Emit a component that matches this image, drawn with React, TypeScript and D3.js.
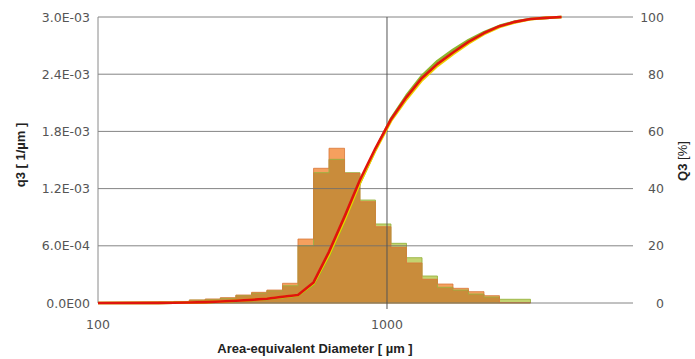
import { useEffect, useRef } from "react"
import * as d3 from "d3"

// bin edges of the histogram [µm]
const binEdges = [162, 183, 207, 235, 265, 300, 340, 384, 435, 492, 557, 630, 713, 806, 912, 1032, 1168, 1322, 1495, 1692, 1914, 2166, 2450, 2772, 3137]

// q3 density [1/µm], one value per bin
const q3Orange = [0.07e-4, 0.16e-4, 0.31e-4, 0.42e-4, 0.56e-4, 0.84e-4, 1.12e-4, 1.36e-4, 2.07e-4, 6.71e-4, 14.13e-4, 16.23e-4, 13.6e-4, 10.63e-4, 8.0e-4, 5.84e-4, 4.2e-4, 2.49e-4, 1.99e-4, 1.54e-4, 1.19e-4, 0.77e-4, 0.05e-4, 0.05e-4]
const q3Green = [0.07e-4, 0.16e-4, 0.31e-4, 0.38e-4, 0.5e-4, 0.78e-4, 1.05e-4, 1.28e-4, 1.81e-4, 6.01e-4, 13.67e-4, 15.07e-4, 13.67e-4, 10.8e-4, 8.29e-4, 6.26e-4, 4.75e-4, 2.83e-4, 1.65e-4, 1.36e-4, 0.94e-4, 0.63e-4, 0.39e-4, 0.39e-4]

// cumulative Q3 [%] at the sizes below
const cumSizes = [100, 162, 183, 207, 235, 265, 300, 340, 384, 435, 492, 557, 630, 713, 806, 912, 1032, 1168, 1322, 1495, 1692, 1914, 2166, 2450, 2772, 3137, 3549, 4016]
const Q3Red = [0, 0.05, 0.1, 0.2, 0.3, 0.5, 0.8, 1.1, 1.5, 2.2, 2.8, 7.2, 17.9, 30.2, 43.0, 54.1, 64.2, 72.0, 78.7, 83.6, 87.6, 91.3, 94.4, 96.8, 98.3, 99.3, 99.7, 100]
const Q3Yellow = [0, 0.05, 0.1, 0.2, 0.3, 0.5, 0.8, 1.1, 1.5, 2.1, 2.7, 6.8, 16.9, 29.0, 42.0, 53.4, 63.6, 71.2, 77.9, 82.9, 87.0, 90.8, 94.0, 96.5, 98.1, 99.2, 99.7, 100]
const Q3Green = [0, 0.05, 0.1, 0.2, 0.3, 0.5, 0.7, 1.0, 1.4, 2.0, 2.6, 6.5, 16.5, 28.8, 42.0, 53.6, 64.4, 72.6, 79.5, 84.6, 88.5, 91.9, 94.7, 96.9, 98.4, 99.3, 99.7, 100]

const leftTicks = [0, 6e-4, 1.2e-3, 1.8e-3, 2.4e-3, 3e-3]
const leftTickLabels = ["0.0E00", "6.0E-04", "1.2E-03", "1.8E-03", "2.4E-03", "3.0E-03"]
const rightTicks = [0, 20, 40, 60, 80, 100]
const xTicks = [100, 1000]

export default function App() {
  const ref = useRef<SVGSVGElement>(null)

  useEffect(() => {
    if (!ref.current) return
    const svg = d3.select(ref.current)
    svg.selectAll("*").remove()

    const left = 98, right = 633, top = 17, bottom = 303
    const x = d3.scaleLog().domain([100, 7100]).range([left, right])
    const yL = d3.scaleLinear().domain([0, 3e-3]).range([bottom, top])
    const yR = d3.scaleLinear().domain([0, 100]).range([bottom, top])
    const font = "'DejaVu Sans', sans-serif"

    // histogram as step outlines / areas
    const step = (vals: number[]) => {
      const pts: [number, number][] = [[x(binEdges[0]), yL(0)]]
      vals.forEach((v, i) => {
        pts.push([x(binEdges[i]), yL(v)])
        pts.push([x(binEdges[i + 1]), yL(v)])
      })
      pts.push([x(binEdges[binEdges.length - 1]), yL(0)])
      return d3.line()(pts) + "Z"
    }
    const q3Min = q3Orange.map((v, i) => Math.min(v, q3Green[i]))

    svg.append("path").attr("d", step(q3Green)).attr("fill", "#c3d370")
    svg.append("path").attr("d", step(q3Orange)).attr("fill", "#f5a05e")
    svg.append("path").attr("d", step(q3Min)).attr("fill", "#c98c3b")

    svg.append("path").attr("d", step(q3Green)).attr("fill", "none")
      .attr("stroke", "#98b440").attr("stroke-width", 1).attr("opacity", 0.9)
    svg.append("path").attr("d", step(q3Orange)).attr("fill", "none")
      .attr("stroke", "#d8773a").attr("stroke-width", 1).attr("opacity", 0.8)

    // horizontal gridlines (drawn over the bars)
    svg.append("g").selectAll("line").data(leftTicks).enter().append("line")
      .attr("x1", left).attr("x2", right)
      .attr("y1", d => yL(d)).attr("y2", d => yL(d))
      .attr("stroke", "#6f6f6f").attr("stroke-opacity", 0.85).attr("stroke-width", 1)

    // vertical gridline at 1000
    svg.append("line")
      .attr("x1", x(1000)).attr("x2", x(1000))
      .attr("y1", top).attr("y2", bottom + 6)
      .attr("stroke", "#555").attr("stroke-width", 1)

    // axes lines
    svg.append("line").attr("x1", left).attr("x2", left).attr("y1", top).attr("y2", bottom)
      .attr("stroke", "#8a8a8a")

    // cumulative curves
    const line = d3.line<number>()
      .x((_, i) => x(cumSizes[i]))
      .y(d => yR(d))
    const curves: [number[], string][] = [[Q3Green, "#8db52c"], [Q3Yellow, "#ecd000"], [Q3Red, "#e0140c"]]
    curves.forEach(([vals, c]) => {
      svg.append("path").datum(vals).attr("d", line).attr("fill", "none")
        .attr("stroke", c).attr("stroke-width", 2.6).attr("stroke-linejoin", "round")
    })

    // left tick labels
    svg.append("g").selectAll("text").data(leftTicks).enter().append("text")
      .attr("x", 90).attr("y", d => yL(d)).attr("dy", "0.36em")
      .attr("text-anchor", "end").attr("font-family", font).attr("font-size", 12.5)
      .attr("fill", "#555").text((_, i) => leftTickLabels[i])

    // right tick labels
    svg.append("g").selectAll("text").data(rightTicks).enter().append("text")
      .attr("x", 664).attr("y", d => yR(d)).attr("dy", "0.36em")
      .attr("text-anchor", "end").attr("font-family", font).attr("font-size", 12.5)
      .attr("fill", "#555").text(d => String(d))

    // x tick labels
    svg.append("g").selectAll("text").data(xTicks).enter().append("text")
      .attr("x", d => x(d)).attr("y", 329)
      .attr("text-anchor", "middle").attr("font-family", font).attr("font-size", 12.5)
      .attr("fill", "#555").text(d => String(d))

    const titleFont = "'Liberation Sans', Arial, sans-serif"
    svg.append("text")
      .attr("x", 315).attr("y", 353).attr("text-anchor", "middle")
      .attr("font-family", titleFont).attr("font-size", 13).attr("font-weight", "bold")
      .attr("fill", "#222").text("Area-equivalent Diameter [ µm ]")

    svg.append("text")
      .attr("transform", "translate(25,155) rotate(-90)").attr("text-anchor", "middle")
      .attr("font-family", titleFont).attr("font-size", 13).attr("font-weight", "bold")
      .attr("fill", "#222").text("q3 [ 1/µm ]")

    const r = svg.append("text")
      .attr("transform", "translate(687,161) rotate(-90)").attr("text-anchor", "middle")
      .attr("font-family", titleFont).attr("font-size", 13).attr("fill", "#222")
    r.append("tspan").attr("font-weight", "bold").text("Q3 ")
    r.append("tspan").text("[%]")
  }, [])

  return (
    <svg ref={ref} width={695} height={359}
      style={{ position: "absolute", left: 0, top: 0, background: "#fff" }} />
  )
}
